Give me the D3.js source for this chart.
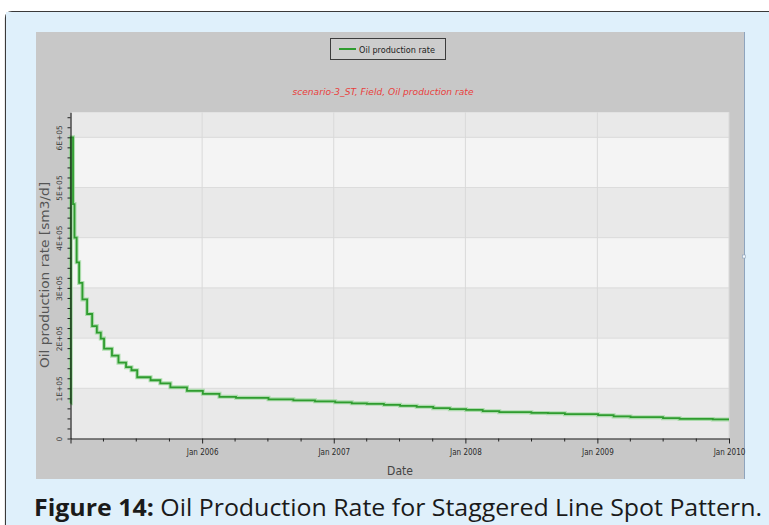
<!DOCTYPE html>
<html>
<head>
<meta charset="utf-8">
<script src="https://cdn.jsdelivr.net/npm/d3@7/dist/d3.min.js"></script>
<style>
  html, body { margin: 0; padding: 0; background: #ffffff; }
  svg { display: block; }
</style>
</head>
<body>
<script>
// ---- Data ----
const dates = [
  "2005-01-01","2005-01-02","2005-01-08","2005-01-12","2005-01-18","2005-01-25",
  "2005-02-03","2005-02-16","2005-03-02","2005-03-15","2005-03-26","2005-04-04",
  "2005-04-26","2005-05-14","2005-06-04","2005-06-19","2005-07-05","2005-08-11",
  "2005-09-07","2005-10-05","2005-11-20","2006-01-03","2006-02-18","2006-04-05",
  "2006-07-04","2006-09-11","2006-11-10","2007-01-05","2007-02-20","2007-04-03",
  "2007-05-20","2007-07-04","2007-08-19","2007-10-04","2007-11-19","2008-01-03",
  "2008-02-18","2008-04-04","2008-07-02","2008-08-17","2008-10-03","2009-01-03",
  "2009-02-15","2009-04-03","2009-07-02","2009-08-17","2009-11-17","2010-01-01"
];
const oilRate = [
  70000, 600000, 467000, 400000, 351000, 310000,
  277000, 248000, 224000, 211000, 199000, 179000,
  165000, 151000, 142000, 136000, 122000, 116000,
  110000, 102000, 95000, 89000, 83000, 81000,
  78000, 76000, 74000, 72000, 70000, 69000,
  67000, 65000, 63000, 60500, 58500, 57000,
  54500, 52500, 51000, 50500, 48500, 46500,
  44000, 42500, 40500, 39000, 38000, 38000
];
const yTickValues = [0, 100000, 200000, 300000, 400000, 500000, 600000];
const yTickLabels = ["0", "1E+05", "2E+05", "3E+05", "4E+05", "5E+05", "6E+05"];
const xDomain = ["2005-01-01", "2010-01-01"];
const yDomain = [0, 650000];
const seriesName = "Oil production rate";
const chartTitle = "scenario-3_ST, Field, Oil production rate";
const xTitle = "Date";
const yTitle = "Oil production rate [sm3/d]";
const captionBold = "Figure 14:";
const captionRest = " Oil Production Rate for Staggered Line Spot Pattern.";

// ---- Layout ----
const W = 769, H = 525;
const plot = { left: 70.5, right: 729, top: 112.2, bottom: 438.5 };
const parse = d3.timeParse("%Y-%m-%d");
const data = dates.map((d, i) => ({ date: parse(d), value: oilRate[i] }));

const svg = d3.select("body").append("svg").attr("width", W).attr("height", H);

// Outer light-blue framed box
svg.append("path")
  .attr("d", "M5.5,525 L5.5,18 Q5.5,11.5 12,11.5 L775,11.5")
  .attr("fill", "#dff0fb").attr("stroke", "#3a3a3a").attr("stroke-width", 1.2);
svg.append("rect").attr("x", 6).attr("y", 12).attr("width", W).attr("height", H)
  .attr("fill", "#dff0fb");

// Gray chart panel
svg.append("rect").attr("x", 36).attr("y", 32).attr("width", 708).attr("height", 447)
  .attr("fill", "#c8c8c8");
svg.append("line").attr("x1", 744.5).attr("x2", 744.5).attr("y1", 32).attr("y2", 479)
  .attr("stroke", "#8ea4bd").attr("stroke-width", 1);
svg.append("rect").attr("x", 742.5).attr("y", 255).attr("width", 3).attr("height", 3)
  .attr("fill", "#f4f8fc").attr("stroke", "#8ea4bd").attr("stroke-width", 0.6);

// Scales
const x = d3.scaleTime().domain(xDomain.map(parse)).range([plot.left, plot.right]);
const y = d3.scaleLinear().domain(yDomain).range([plot.bottom, plot.top]);

// Plot bands (alternating)
const bandEdges = [0, 100000, 200000, 300000, 400000, 500000, 600000, 650000];
for (let i = 0; i < bandEdges.length - 1; i++) {
  svg.append("rect")
    .attr("x", plot.left).attr("width", plot.right - plot.left)
    .attr("y", y(bandEdges[i + 1])).attr("height", y(bandEdges[i]) - y(bandEdges[i + 1]))
    .attr("fill", i % 2 === 0 ? "#e9e9e9" : "#f4f4f4");
}
// Gridlines
svg.append("g").selectAll("line").data(yTickValues.slice(1)).join("line")
  .attr("x1", plot.left).attr("x2", plot.right)
  .attr("y1", d => y(d)).attr("y2", d => y(d))
  .attr("stroke", "#dcdcdc").attr("stroke-width", 1);
const yearTicks = d3.timeYear.range(parse("2006-01-01"), parse("2010-01-02"));
svg.append("g").selectAll("line").data(yearTicks).join("line")
  .attr("x1", d => x(d)).attr("x2", d => x(d))
  .attr("y1", plot.top).attr("y2", plot.bottom)
  .attr("stroke", "#d9d9d9").attr("stroke-width", 1);

// Series line (step)
const line = d3.line().x(d => x(d.date)).y(d => y(d.value)).curve(d3.curveStepAfter);
svg.append("path").datum(data).attr("d", line)
  .attr("fill", "none").attr("stroke", "#92d492").attr("stroke-width", 4).attr("opacity", 0.7);
svg.append("path").datum(data).attr("d", line)
  .attr("fill", "none").attr("stroke", "#2f9c2f").attr("stroke-width", 1.8);

// Y axis
const yMinor = d3.range(0, 650001, 20000);
const yAxis = d3.axisLeft(y).tickValues(yMinor).tickSize(3).tickSizeOuter(0)
  .tickFormat(d => { const k = yTickValues.indexOf(d); return k >= 0 ? yTickLabels[k] : ""; });
const gy = svg.append("g").attr("transform", `translate(${plot.left},0)`).call(yAxis);
gy.select(".domain").attr("stroke", "#222").attr("stroke-width", 1.2);
gy.selectAll(".tick line").attr("stroke", "#222");
gy.selectAll(".tick text")
  .attr("transform", "rotate(-90)")
  .attr("x", 0).attr("y", -8.5).attr("dy", "0")
  .attr("text-anchor", "middle")
  .attr("font-family", "DejaVu Sans, sans-serif").attr("font-size", 7.5)
  .attr("fill", "#3a3a3a");

// X axis
const xMinor = d3.timeMonth.every(3).range(parse("2005-01-01"), parse("2010-01-02"));
const xAxis = d3.axisBottom(x).tickValues(xMinor).tickSize(3).tickSizeOuter(0)
  .tickFormat(d => (d.getMonth() === 0 && d.getFullYear() > 2005) ? d3.timeFormat("Jan %Y")(d) : "");
const gx = svg.append("g").attr("transform", `translate(0,${plot.bottom})`).call(xAxis);
gx.select(".domain").attr("stroke", "#222").attr("stroke-width", 1.2);
gx.selectAll(".tick line").attr("stroke", "#222")
  .attr("y2", d => d.getMonth() === 0 ? 5 : 3);
gx.selectAll(".tick text")
  .attr("y", 10.5).attr("dy", "0.71em")
  .attr("font-family", "DejaVu Sans Condensed, DejaVu Sans, sans-serif").attr("font-size", 8)
  .attr("fill", "#2a2a2a");

// Axis titles
svg.append("text").attr("x", 400).attr("y", 475).attr("text-anchor", "middle")
  .attr("font-family", "DejaVu Sans Condensed, DejaVu Sans, sans-serif").attr("font-size", 12)
  .attr("fill", "#444").text(xTitle);
svg.append("text").attr("transform", "translate(48.5,275) rotate(-90)")
  .attr("text-anchor", "middle")
  .attr("font-family", "DejaVu Sans, sans-serif").attr("font-size", 12.5)
  .attr("textLength", 186).attr("lengthAdjust", "spacingAndGlyphs")
  .attr("fill", "#555").text(yTitle);

// Chart title
svg.append("text").attr("x", 383).attr("y", 95).attr("text-anchor", "middle")
  .attr("font-family", "DejaVu Sans Condensed, DejaVu Sans, sans-serif").attr("font-size", 9)
  .attr("font-style", "italic").attr("fill", "#e8403c")
  .attr("textLength", 181).attr("lengthAdjust", "spacingAndGlyphs")
  .text(chartTitle);

// Legend
const lg = svg.append("g");
lg.append("rect").attr("x", 330.5).attr("y", 38.5).attr("width", 115).attr("height", 21)
  .attr("fill", "#cdcdcd").attr("stroke", "#3c3c3c").attr("stroke-width", 1);
lg.append("line").attr("x1", 339).attr("x2", 356).attr("y1", 49).attr("y2", 49)
  .attr("stroke", "#2f9c2f").attr("stroke-width", 2);
lg.append("text").attr("x", 359).attr("y", 52.5)
  .attr("font-family", "DejaVu Sans Condensed, DejaVu Sans, sans-serif").attr("font-size", 9)
  .attr("fill", "#222").attr("textLength", 76).attr("lengthAdjust", "spacingAndGlyphs")
  .text(seriesName);

// Caption
const cap = svg.append("text").attr("x", 34).attr("y", 516)
  .attr("font-family", "Open Sans, Noto Sans, sans-serif").attr("font-size", 23.5)
  .attr("fill", "#1a1a1a").attr("textLength", 728).attr("lengthAdjust", "spacingAndGlyphs");
cap.append("tspan").attr("font-weight", "bold").text(captionBold);
cap.append("tspan").text(captionRest);
</script>
</body>
</html>
